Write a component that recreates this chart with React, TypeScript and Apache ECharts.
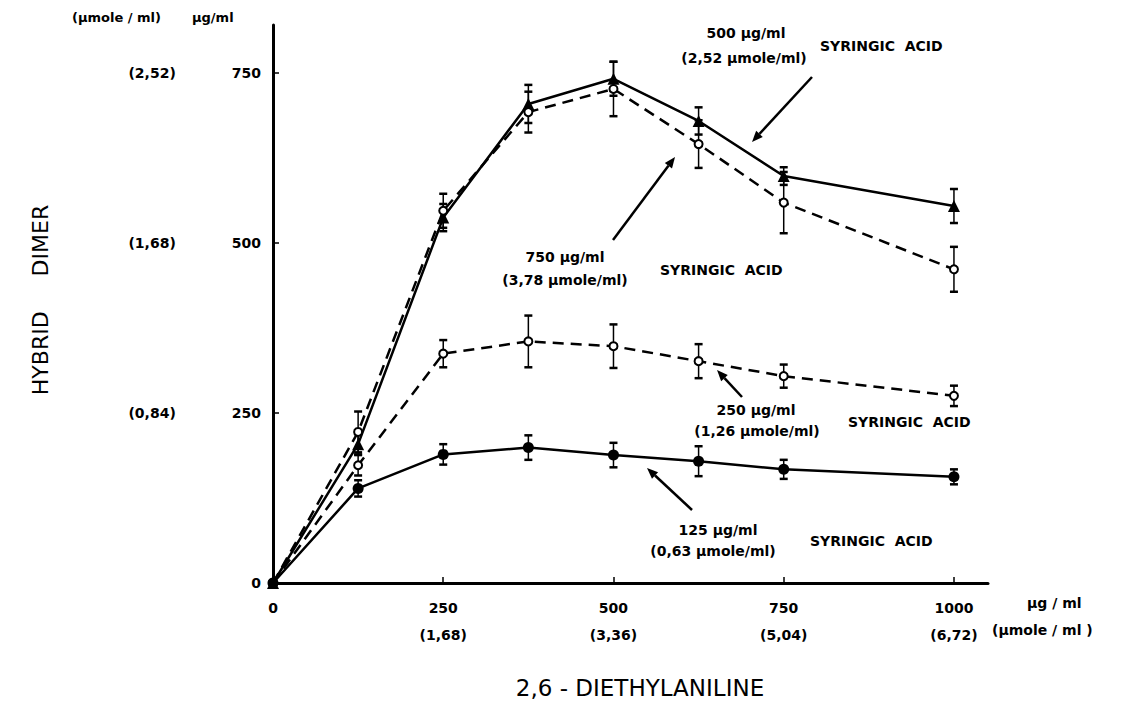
import React, { useEffect, useRef } from "react";
import * as echarts from "echarts";

const xValues = [0, 125, 250, 375, 500, 625, 750, 1000];
const s500 = [0, 204, 537, 704, 741, 679, 598, 554];
const s500Err = [0, 15, 20, 28, 25, 20, 13, 25];
const s750 = [0, 222, 547, 692, 726, 645, 559, 461];
const s750Err = [0, 30, 25, 30, 40, 35, 45, 33];
const s250 = [0, 173, 337, 355, 348, 326, 304, 275];
const s250Err = [0, 15, 20, 38, 32, 25, 17, 15];
const s125 = [0, 139, 189, 199, 188, 179, 167, 156];
const s125Err = [0, 12, 15, 18, 18, 22, 14, 11];

const xTicks = [0, 250, 500, 750, 1000];
const xTickSub = ["", "(1,68)", "(3,36)", "(5,04)", "(6,72)"];
const yTicks = [0, 250, 500, 750];
const yTickSub = ["", "(0,84)", "(1,68)", "(2,52)"];

const FONT = '"DejaVu Sans", sans-serif';

function arrow(x1: number, y1: number, x2: number, y2: number) {
  const ang = Math.atan2(y2 - y1, x2 - x1);
  const L = 11, W = 4.5;
  const bx = x2 - L * Math.cos(ang), by = y2 - L * Math.sin(ang);
  const px = -Math.sin(ang) * W, py = Math.cos(ang) * W;
  return [
    { type: "line", shape: { x1, y1, x2: bx, y2: by }, style: { stroke: "#000", lineWidth: 2.5 } },
    { type: "polygon", shape: { points: [[x2, y2], [bx + px, by + py], [bx - px, by - py]] }, style: { fill: "#000" } },
  ];
}

function txt(text: string, x: number, y: number, size = 14, align = "left", extra: any = {}, weight = "bold") {
  return {
    type: "text",
    x, y,
    ...extra,
    style: { text, font: `${weight} ${size}px ${FONT}`, fill: "#000", align, verticalAlign: "middle" },
  };
}

const richFont = { fontSize: 14, fontWeight: "bold", fontFamily: FONT, color: "#000" };

export default function App() {
  const ref = useRef<HTMLDivElement>(null);
  useEffect(() => {
    if (!ref.current) return;
    const chart = echarts.init(ref.current, null, { renderer: "svg" });
    const mk = (ys: number[]) => xValues.map((x, i) => [x, ys[i]]);
    const mkErr = (ys: number[], es: number[]) => xValues.map((x, i) => [x, ys[i], es[i]]);
    const errSeries = (ys: number[], es: number[]) => ({
      type: "custom",
      data: mkErr(ys, es),
      z: 1,
      renderItem: (params: any, api: any) => {
        const x = api.value(0), y = api.value(1), e = api.value(2);
        if (!e) return null;
        const top = api.coord([x, y + e]);
        const bot = api.coord([x, y - e]);
        const cw = 4;
        return {
          type: "group",
          children: [
            { type: "line", shape: { x1: top[0], y1: top[1], x2: bot[0], y2: bot[1] }, style: { stroke: "#000", lineWidth: 1.5 } },
            { type: "line", shape: { x1: top[0] - cw, y1: top[1], x2: top[0] + cw, y2: top[1] }, style: { stroke: "#000", lineWidth: 2.5 } },
            { type: "line", shape: { x1: bot[0] - cw, y1: bot[1], x2: bot[0] + cw, y2: bot[1] }, style: { stroke: "#000", lineWidth: 2.5 } },
          ],
        };
      },
    });
    const lineSeries = (name: string, ys: number[], dashed: boolean, symbol: string, size: number) => ({
      name,
      type: "line",
      data: mk(ys),
      z: 3,
      symbol,
      symbolSize: size,
      showAllSymbol: true,
      lineStyle: { color: "#000", width: 2.5, type: dashed ? [11, 7] : "solid" },
      itemStyle: { color: "#000", borderColor: "#000", borderWidth: symbol === "emptyCircle" ? 2.5 : 0 },
    });

    chart.setOption({
      animation: false,
      backgroundColor: "#fff",
      grid: { left: 273, right: 159, top: 25, bottom: 143 },
      xAxis: {
        type: "value",
        min: 0,
        max: 1050,
        interval: 250,
        splitLine: { show: false },
        axisLine: { lineStyle: { color: "#000", width: 3 } },
        axisTick: { inside: true, length: 6, lineStyle: { color: "#000", width: 1.5 }, customValues: xTicks.slice(1) },
        axisLabel: {
          customValues: xTicks,
          margin: 11,
          formatter: (v: number) => {
            const i = xTicks.indexOf(v);
            if (i < 0) return "";
            return xTickSub[i] ? `{a|${xTicks[i]}}\n{b|${xTickSub[i]}}` : `{a|${xTicks[i]}}`;
          },
          rich: {
            a: { ...richFont, lineHeight: 27 },
            b: { ...richFont, lineHeight: 27 },
          },
        },
      },
      yAxis: {
        type: "value",
        min: 0,
        max: 820,
        interval: 250,
        splitLine: { show: false },
        axisLine: { lineStyle: { color: "#000", width: 3 } },
        axisTick: { inside: true, length: 6, lineStyle: { color: "#000", width: 1.5 }, customValues: yTicks.slice(1) },
        axisLabel: {
          customValues: yTicks,
          margin: 12,
          formatter: (v: number) => {
            const i = yTicks.indexOf(v);
            if (i < 0) return "";
            return yTickSub[i] ? `{b|${yTickSub[i]}}{a|${yTicks[i]}}` : `{a|${yTicks[i]}}`;
          },
          rich: {
            a: { ...richFont },
            b: { ...richFont, padding: [0, 56, 0, 0] },
          },
        },
      },
      series: [
        errSeries(s500, s500Err),
        errSeries(s750, s750Err),
        errSeries(s250, s250Err),
        errSeries(s125, s125Err),
        lineSeries("500 µg/ml", s500, false, "triangle", 12),
        lineSeries("750 µg/ml", s750, true, "emptyCircle", 8),
        lineSeries("250 µg/ml", s250, true, "emptyCircle", 8),
        lineSeries("125 µg/ml", s125, false, "circle", 11),
      ],
      graphic: [
        txt("(µmole / ml)", 72, 17, 13),
        txt("µg/ml", 192, 17, 13),
        txt("HYBRID     DIMER", 40, 300, 22, "center", { rotation: Math.PI / 2 }, "500"),
        txt("µg / ml", 1027, 603, 14),
        txt("(µmole / ml )", 992, 630, 14),
        txt("2,6 - DIETHYLANILINE", 640, 688, 23, "center", {}, "500"),
        txt("500 µg/ml", 746, 33, 14, "center"),
        txt("(2,52 µmole/ml)", 744, 58, 14, "center"),
        txt("SYRINGIC  ACID", 820, 46, 14),
        ...arrow(812, 77, 752, 142),
        txt("750 µg/ml", 565, 257, 14, "center"),
        txt("(3,78 µmole/ml)", 565, 280, 14, "center"),
        txt("SYRINGIC  ACID", 660, 270, 14),
        ...arrow(613, 240, 675, 157),
        txt("250 µg/ml", 756, 410, 14, "center"),
        txt("(1,26 µmole/ml)", 757, 431, 14, "center"),
        txt("SYRINGIC  ACID", 848, 422, 14),
        ...arrow(742, 397, 717, 370),
        txt("125 µg/ml", 718, 530, 14, "center"),
        txt("(0,63 µmole/ml)", 713, 551, 14, "center"),
        txt("SYRINGIC  ACID", 810, 541, 14),
        ...arrow(692, 510, 647, 468),
      ],
    });
    return () => chart.dispose();
  }, []);
  return <div ref={ref} style={{ position: "absolute", left: 0, top: 0, width: 1147, height: 726 }} />;
}
